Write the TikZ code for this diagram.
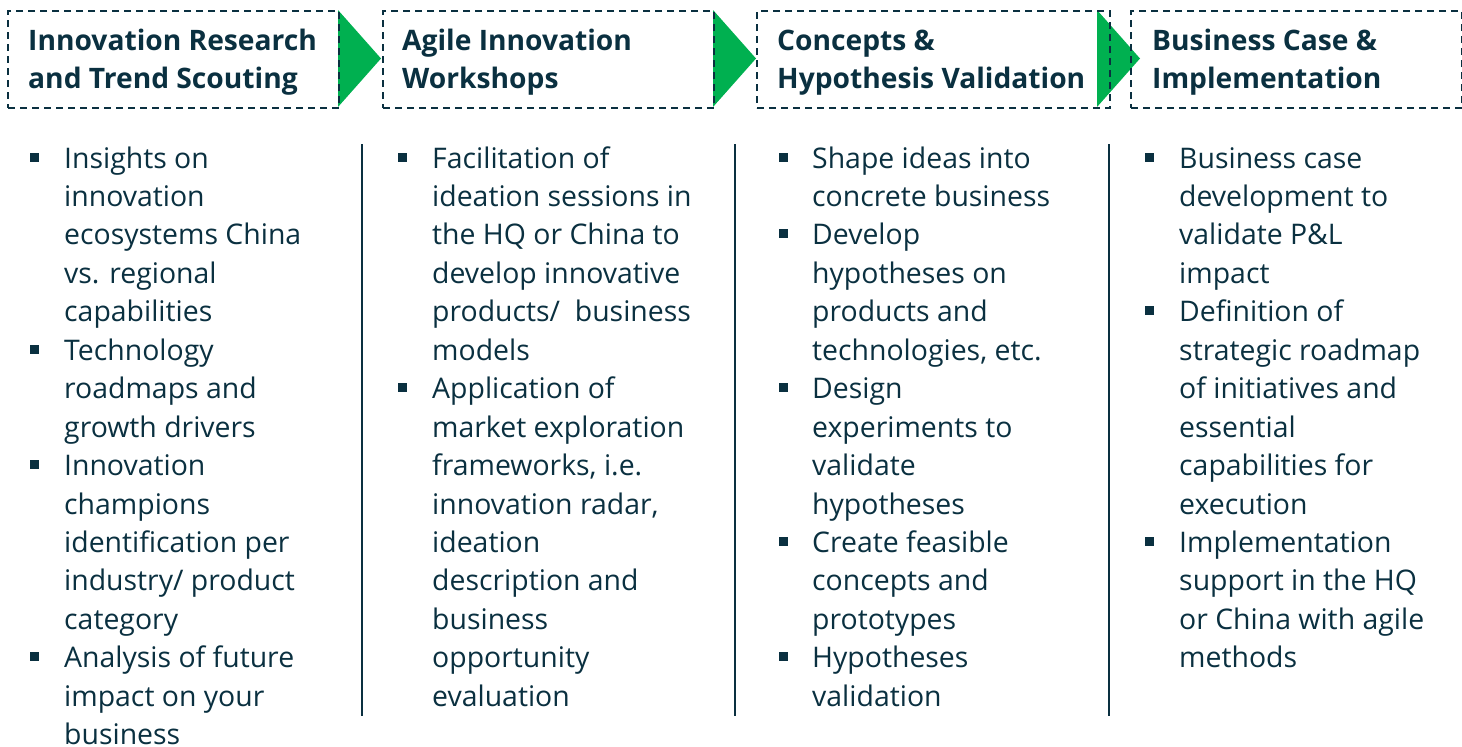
\documentclass[tikz,border=0pt]{standalone}
\usepackage{fontspec}
\setmainfont{Open Sans}
\definecolor{navy}{RGB}{10,48,64}
\definecolor{arrowgreen}{RGB}{0,176,80}
\begin{document}
\begin{tikzpicture}[x=1pt,y=-1pt,
  hbox/.style={draw=navy, line width=2pt, dash pattern=on 7pt off 5pt, inner sep=0pt, anchor=north west},
  htext/.style={anchor=base west, inner sep=0pt, align=left, text=navy,
    font=\fontsize{28.2}{38}\selectfont\bfseries},
  btext/.style={anchor=base west, inner sep=0pt, align=left, text=navy,
    font=\fontsize{28.4}{38.45}\selectfont},
  bullet/.style={fill=navy, minimum size=9pt, inner sep=0pt},
  divider/.style={draw=navy, line width=1.5pt},
  arrowtri/.style={fill=arrowgreen}]
\useasboundingbox (0,0) rectangle (1462,747);
% arrows
\fill[arrowtri] (338,10) -- (381,58.5) -- (338,107) -- cycle;
\fill[arrowtri] (713,10) -- (756,58.5) -- (713,107) -- cycle;
\fill[arrowtri] (1097,10) -- (1140,58.5) -- (1097,107) -- cycle;
% header boxes
\node[hbox, minimum width=331pt, minimum height=97pt] (h1) at (7,10) {};
\node[hbox, minimum width=331pt, minimum height=97pt] (h2) at (382,10) {};
\node[hbox, minimum width=353pt, minimum height=97pt] (h3) at (756,10) {};
\node[hbox, minimum width=331pt, minimum height=97pt] (h4) at (1130,10) {};
% headers (base = last line baseline)
\node[htext] (t1) at (28,88) {Innovation Research\\and Trend Scouting};
\node[htext] (t2) at (402,88) {Agile Innovation\\Workshops};
\node[htext] (t3) at (777,88) {Concepts \&\\Hypothesis Validation};
\node[htext] (t4) at (1152,88) {Business Case \&\\Implementation};
% dividers
\coordinate (d1a) at (362,144); \coordinate (d1b) at (362,716);
\coordinate (d2a) at (735,144); \coordinate (d2b) at (735,716);
\coordinate (d3a) at (1109,144); \coordinate (d3b) at (1109,716);
\draw[divider] (d1a) -- (d1b);
\draw[divider] (d2a) -- (d2b);
\draw[divider] (d3a) -- (d3b);
% body text: node base = baseline of its last line
% column 1
\node[bullet] (b11) at (34.5,157) {};
\node[btext] (c11) at (64,168+4*38.45) {Insights on\\innovation\\ecosystems China\\vs. regional\\capabilities};
\node[bullet] (b12) at (34.5,157+5*38.45) {};
\node[btext] (c12) at (64,168+7*38.45) {Technology\\roadmaps and\\growth drivers};
\node[bullet] (b13) at (34.5,157+8*38.45) {};
\node[btext] (c13) at (64,168+12*38.45) {Innovation\\champions\\identification per\\industry/ product\\category};
\node[bullet] (b14) at (34.5,157+13*38.45) {};
\node[btext] (c14) at (64,168+15*38.45) {Analysis of future\\impact on your\\business};
% column 2
\node[bullet] (b21) at (402.5,157) {};
\node[btext] (c21) at (432,168+5*38.45) {Facilitation of\\ideation sessions in\\the HQ or China to\\develop innovative\\products/\ \ business\\models};
\node[bullet] (b22) at (402.5,157+6*38.45) {};
\node[btext] (c22) at (432,168+14*38.45) {Application of\\market exploration\\frameworks, i.e.\\innovation radar,\\ideation\\description and\\business\\opportunity\\evaluation};
% column 3
\node[bullet] (b31) at (783,157) {};
\node[btext] (c31) at (812,168+1*38.45) {Shape ideas into\\concrete business};
\node[bullet] (b32) at (783,157+2*38.45) {};
\node[btext] (c32) at (812,168+5*38.45) {Develop\\hypotheses on\\products and\\technologies, etc.};
\node[bullet] (b33) at (783,157+6*38.45) {};
\node[btext] (c33) at (812,168+9*38.45) {Design\\experiments to\\validate\\hypotheses};
\node[bullet] (b34) at (783,157+10*38.45) {};
\node[btext] (c34) at (812,168+12*38.45) {Create feasible\\concepts and\\prototypes};
\node[bullet] (b35) at (783,157+13*38.45) {};
\node[btext] (c35) at (812,168+14*38.45) {Hypotheses\\validation};
% column 4
\node[bullet] (b41) at (1149,157) {};
\node[btext] (c41) at (1179,168+3*38.45) {Business case\\development to\\validate P\&L\\impact};
\node[bullet] (b42) at (1149,157+4*38.45) {};
\node[btext] (c42) at (1179,168+9*38.45) {Definition of\\strategic roadmap\\of initiatives and\\essential\\capabilities for\\execution};
\node[bullet] (b43) at (1149,157+10*38.45) {};
\node[btext] (c43) at (1179,168+13*38.45) {Implementation\\support in the HQ\\or China with agile\\methods};
\end{tikzpicture}
\end{document}
